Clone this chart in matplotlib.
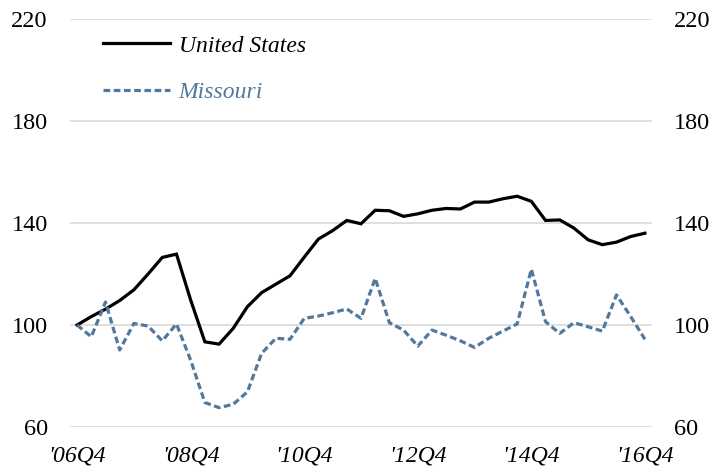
import matplotlib
matplotlib.use("Agg")
import matplotlib.pyplot as plt
import numpy as np

# Quarterly index, 2006Q4 = 100
quarters = [f"'{y % 100:02d}Q{q}" for y in range(2006, 2017) for q in (1, 2, 3, 4)][3:]
us = [100.0, 103.3, 106.2, 109.6, 113.8, 120.0, 126.5, 127.8, 109.8, 93.4,
      92.5, 98.7, 107.2, 112.7, 116.0, 119.3, 126.6, 133.7, 137.0, 141.0,
      139.7, 145.0, 144.8, 142.6, 143.6, 145.0, 145.7, 145.5, 148.2, 148.2,
      149.5, 150.5, 148.5, 141.0, 141.2, 138.0, 133.4, 131.5, 132.5, 134.7,
      136.0]
missouri = [100.0, 95.4, 109.0, 90.2, 100.6, 99.6, 93.8, 100.4, 86.2, 69.6,
            67.6, 68.9, 73.8, 88.9, 94.8, 94.4, 102.6, 103.5, 104.8, 106.3,
            102.6, 118.3, 100.9, 98.0, 91.7, 98.0, 96.0, 93.8, 91.2, 94.8,
            97.6, 100.4, 121.9, 101.3, 96.7, 100.9, 99.3, 97.6, 111.8, 103.3,
            94.4]
yticks = [60, 100, 140, 180, 220]
xlabel_every = 8

serif = ["Liberation Serif", "DejaVu Serif"]
plt.rcParams["font.family"] = serif

fig = plt.figure(figsize=(7.12, 4.72), dpi=100)
ax = fig.add_axes([70 / 712, 45 / 472, 582 / 712, 408 / 472])

x = np.arange(len(us))
ax.plot(x, us, color="black", lw=2.3, label="United States", solid_joinstyle="miter")
ax.plot(x, missouri, color="#52789c", lw=2.3, linestyle=(0, (2.1, 1.1)),
        label="Missouri")

ax.set_xlim(-0.5, len(us) - 0.5)
ax.set_ylim(60, 220)
ax.set_yticks(yticks)
ax.grid(axis="y", color="#d9d9d9", lw=1.2)
ax.set_axisbelow(True)
for s in ax.spines.values():
    s.set_visible(False)

ax.set_xticks(x[::xlabel_every])
ax.set_xticklabels(quarters[::xlabel_every], fontstyle="italic", fontsize=17)
ax.tick_params(axis="x", length=0, pad=13)
ax.tick_params(axis="y", length=0, pad=16, labelsize=17.5, labelright=True)

leg = ax.legend(loc="upper left", bbox_to_anchor=(103 / 712, 1 - 35 / 472),
                bbox_transform=fig.transFigure, frameon=False, fontsize=17,
                handlelength=2.85, handletextpad=0.35, labelspacing=1.07,
                borderpad=0, borderaxespad=0)
for t, c in zip(leg.get_texts(), ["black", "#52789c"]):
    t.set_color(c)
    t.set_fontstyle("italic")

fig.savefig("out.png", dpi=100)
